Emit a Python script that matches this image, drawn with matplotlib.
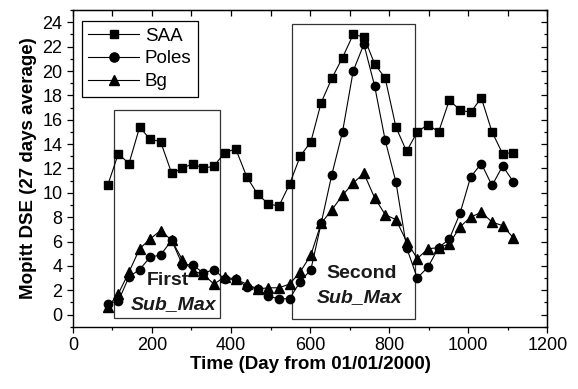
import matplotlib
matplotlib.use('Agg')
import matplotlib.pyplot as plt
from matplotlib.ticker import MultipleLocator
from matplotlib.patches import Rectangle

plt.rcParams['font.family'] = ['Liberation Sans', 'DejaVu Sans']

# day of each 27-day average
days = [88, 115, 142, 169, 195, 222, 250, 277, 303, 330, 357, 384, 412,
        440, 467, 494, 521, 548, 575, 602, 628, 655, 682, 709, 736, 763,
        790, 817, 844, 871, 898, 925, 952, 979, 1006, 1033, 1060, 1087, 1114]

saa = [10.6, 13.2, 12.4, 15.4, 14.4, 14.2, 11.6, 12.0, 12.4, 12.0, 12.2, 13.3, 13.6,
       11.3, 9.9, 9.1, 8.9, 10.7, 13.0, 14.2, 17.4, 19.4, 21.1, 23.0, 22.8, 20.6,
       19.4, 15.4, 13.4, 15.0, 15.6, 15.0, 17.6, 16.8, 16.6, 17.8, 15.0, 13.2, 13.3]

poles = [0.9, 1.1, 3.1, 3.7, 4.7, 4.9, 6.1, 4.1, 4.1, 3.4, 3.7, 2.9, 2.9,
         2.3, 2.1, 1.5, 1.3, 1.3, 2.7, 3.7, 7.5, 11.5, 15.0, 20.0, 22.2, 18.8,
         14.3, 10.9, 5.5, 3.0, 3.9, 5.5, 6.2, 8.3, 11.3, 12.4, 10.6, 12.2, 10.9]

bg = [0.6, 1.7, 3.5, 5.4, 6.2, 6.9, 6.1, 4.5, 3.6, 3.3, 2.5, 3.1, 2.9,
      2.5, 2.1, 2.2, 2.2, 2.5, 3.5, 4.9, 7.5, 8.6, 9.8, 10.8, 11.6, 9.6,
      8.2, 7.8, 6.0, 4.6, 5.4, 5.5, 5.8, 7.2, 8.0, 8.4, 7.6, 7.3, 6.3]

# sub-maximum boxes: (day start, day end, low, high)
box_first = (103, 373, -0.3, 16.8)
box_second = (555, 866, -0.4, 23.9)

fig = plt.figure(figsize=(5.78, 3.89), dpi=100)
ax = fig.add_axes([0.126, 0.160, 0.821, 0.814])

ax.plot(days, saa, '-s', color='black', lw=0.8, ms=5.5, label='SAA')
ax.plot(days, poles, '-o', color='black', lw=0.8, ms=6, label='Poles')
ax.plot(days, bg, '-^', color='black', lw=0.8, ms=6.5, label='Bg')

for b in (box_first, box_second):
    ax.add_patch(Rectangle((b[0], b[2]), b[1] - b[0], b[3] - b[2],
                           fill=False, edgecolor='#333333', lw=0.9))

ax.text(241, 2.8, 'First', fontsize=14, fontweight='bold', ha='center', va='center', color='#1a1a1a')
ax.text(256, 0.8, 'Sub_Max', fontsize=14, fontweight='bold', style='italic',
        ha='center', va='center', color='#1a1a1a')
ax.text(731, 3.4, 'Second', fontsize=14, fontweight='bold', ha='center', va='center', color='#1a1a1a')
ax.text(726, 1.4, 'Sub_Max', fontsize=14, fontweight='bold', style='italic',
        ha='center', va='center', color='#1a1a1a')

ax.set_xlim(0, 1200)
ax.set_ylim(-1, 25)
ax.xaxis.set_major_locator(MultipleLocator(200))
ax.xaxis.set_minor_locator(MultipleLocator(100))
ax.yaxis.set_major_locator(MultipleLocator(2))
ax.yaxis.set_minor_locator(MultipleLocator(1))
ax.set_yticks(range(0, 25, 2))
ax.tick_params(which='major', direction='out', length=4, width=0.9, labelsize=13)
ax.tick_params(which='minor', direction='out', length=2.5, width=0.9)

# mirrored ticks on top and right, pointing inward
top = ax.secondary_xaxis('top')
top.xaxis.set_major_locator(MultipleLocator(200))
top.xaxis.set_minor_locator(MultipleLocator(100))
top.tick_params(which='both', direction='in', length=4, width=0.9, labeltop=False)
right = ax.secondary_yaxis('right')
right.yaxis.set_major_locator(MultipleLocator(2))
right.yaxis.set_minor_locator(MultipleLocator(1))
right.tick_params(which='major', direction='in', length=4, width=0.9, labelright=False)
right.tick_params(which='minor', direction='in', length=2.5, width=0.9)

for s in ax.spines.values():
    s.set_linewidth(1.0)

ax.set_xlabel('Time (Day from 01/01/2000)', fontsize=13.5, fontweight='bold', labelpad=1)
ax.set_ylabel('Mopitt DSE (27 days average)', fontsize=13.5, fontweight='bold', labelpad=4)

leg = ax.legend(loc='upper left', bbox_to_anchor=(0.019, 0.966), fontsize=13.5,
                frameon=True, fancybox=False, edgecolor='black', framealpha=1,
                handlelength=2.7, labelspacing=0.3, borderpad=0.35, handletextpad=0.3,
                borderaxespad=0, markerscale=1.1)
leg.get_frame().set_linewidth(0.9)

fig.savefig('out.png', dpi=100)
